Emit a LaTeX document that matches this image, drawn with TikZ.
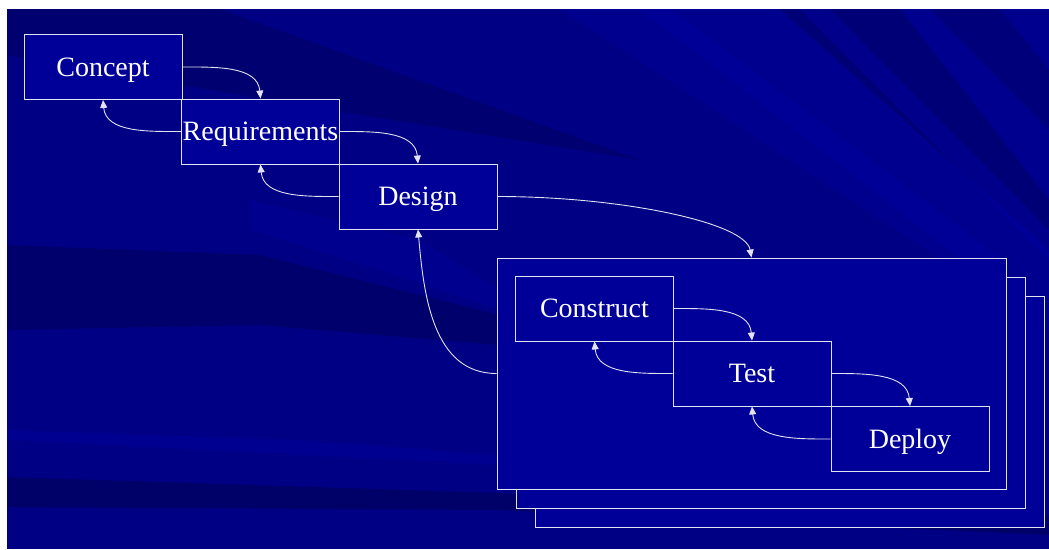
\documentclass[tikz,border=0pt]{standalone}
\usepackage{fontspec}
\setmainfont{Liberation Serif}
\usetikzlibrary{arrows.meta}

\definecolor{slidebg}{HTML}{000084}
\definecolor{slidedark}{HTML}{000058}
\definecolor{slidelight}{HTML}{0000A4}
\definecolor{boxfill}{HTML}{000099}
\definecolor{edge}{HTML}{E2E2F2}

\begin{document}
\begin{tikzpicture}[x=1pt, y=1pt, >={Triangle[length=8pt,width=7pt]},
  phase/.style={draw=edge, fill=boxfill, line width=0.9pt, minimum width=158pt,
    minimum height=65pt, inner sep=0pt, text depth=0pt, text=white,
    font=\fontsize{28}{30}\selectfont},
  frame/.style={draw=edge, fill=boxfill, line width=0.9pt, minimum width=509pt,
    minimum height=231pt, inner sep=0pt},
  flow/.style={->, draw=edge, line width=0.9pt}]

\useasboundingbox (0, 0) rectangle (1049, -549);

%% 背景 (幻灯片底色和斜条纹)
\fill[slidebg] (7, -9) rectangle (1049, -549);
\begin{scope}
\clip (7, -9) rectangle (1049, -549);
\fill[slidelight, opacity=0.35] (560, -9) -- (1049, -9) -- (1049, -330) -- cycle;
\fill[slidedark, opacity=0.45] (7, -9) -- (220, -9) -- (640, -160)
  -- (300, -105) -- (7, -55) -- cycle;
\fill[slidedark, opacity=0.5] (7, -245) -- (260, -255) -- (500, -315) -- (500, -345)
  -- (260, -325) -- (7, -330) -- cycle;
\fill[slidedark, opacity=0.6] (7, -477) -- (500, -493) -- (1049, -515) -- (1049, -535)
  -- (500, -510) -- (7, -507) -- cycle;
\fill[slidelight, opacity=0.4] (7, -430) -- (300, -440) -- (500, -455) -- (500, -465)
  -- (300, -455) -- (7, -440) -- cycle;
\fill[slidelight, opacity=0.35] (250, -200) -- (420, -240) -- (500, -290) -- (500, -310)
  -- (380, -270) -- (250, -230) -- cycle;
\fill[slidedark, opacity=0.45] (780, -9) -- (900, -9) -- (1049, -200) -- (1049, -250)
  -- cycle;
\fill[slidelight, opacity=0.45] (800, -9) -- (830, -9) -- (1049, -230) -- (1049, -260)
  -- cycle;
\fill[slidelight, opacity=0.4] (640, -9) -- (670, -9) -- (1000, -258) -- (960, -258)
  -- cycle;
\fill[slidedark, opacity=0.35] (930, -9) -- (1000, -9) -- (1049, -70) -- (1049, -130)
  -- cycle;
\end{scope}

%% 迭代框 (后面两层先画)
\foreach \k in {2, 1}
  \node[frame] (iteration\k) at ({751.5 + 19*\k}, {-373.5 - 19*\k}) {};
\node[frame] (iteration) at (751.5, -373.5) {};

%% 阶段
\node[phase] (concept) at (103, -67) {Concept};
\node[phase] (requirements) at (260.5, -131.5) {Requirements};
\node[phase] (design) at (418, -196.5) {Design};
\node[phase] (construct) at (594.5, -308.5) {Construct};
\node[phase] (test) at (752, -373.5) {Test};
\node[phase] (deploy) at (910, -439) {Deploy};

%% 向前的箭头
\draw[flow] (concept.east) to[out=0, in=95] (requirements.north);
\draw[flow] (requirements.east) to[out=0, in=95] (design.north);
\draw[flow] (design.east) to[out=0, in=100, out looseness=1.2, in looseness=0.35]
  (iteration.north);
\draw[flow] (construct.east) to[out=0, in=95] (test.north);
\draw[flow] (test.east) to[out=0, in=95] (deploy.north);

%% 返回的箭头
\draw[flow] (requirements.west) to[out=180, in=-85] (concept.south);
\draw[flow] (design.west) to[out=180, in=-85] (requirements.south);
\draw[flow] (iteration.west) to[out=180, in=-85] (design.south);
\draw[flow] (test.west) to[out=180, in=-85] (construct.south);
\draw[flow] (deploy.west) to[out=180, in=-85] (test.south);
\end{tikzpicture}
\end{document}
